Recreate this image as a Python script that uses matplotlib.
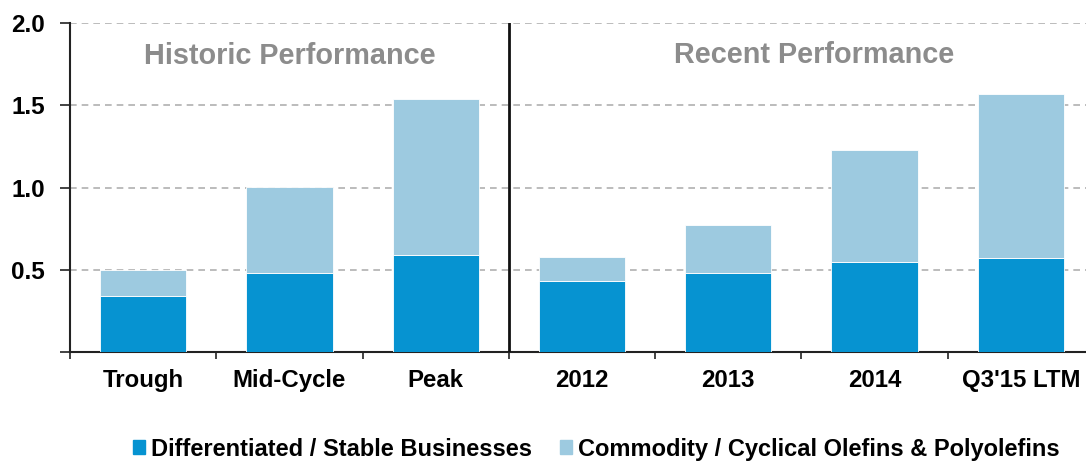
import numpy as np
import matplotlib.pyplot as plt
from matplotlib.patches import Rectangle

plt.rcParams['font.family'] = ['Liberation Sans', 'DejaVu Sans']
plt.rcParams['font.weight'] = 'bold'

categories = ['Trough', 'Mid-Cycle', 'Peak', '2012', '2013', '2014', "Q3'15 LTM"]
stable = [0.34, 0.48, 0.59, 0.43, 0.48, 0.55, 0.57]
total = [0.50, 1.00, 1.54, 0.58, 0.77, 1.23, 1.57]
n_hist = 3

series = ['Differentiated / Stable Businesses', 'Commodity / Cyclical Olefins & Polyolefins']
dark = '#0693d1'
light = '#9dcae0'
grid_c = '#b0b0b0'
title_c = '#8c8c8c'

fig = plt.figure(figsize=(10.86, 4.61), dpi=100)
W, H = 1086, 461
bot, top = 1 - 352 / H, 1 - 23 / H
ax = fig.add_axes([70 / W, bot, (1094 - 70) / W, top - bot])

x = np.arange(len(categories))
comm = np.array(total) - np.array(stable)
ax.bar(x, stable, 0.59, color=dark, edgecolor='white', linewidth=0.6, zorder=3)
ax.bar(x, comm, 0.59, bottom=stable, color=light, edgecolor='white', linewidth=0.6, zorder=3)

ax.set_ylim(0, 2.0)
ax.set_xlim(-0.5, len(categories) - 0.5)
ax.set_xticks(x)
ax.set_xticklabels(categories, fontsize=17.3, fontweight='bold')
ax.set_xticks(np.arange(len(categories) + 1) - 0.5, minor=True)
ax.tick_params(axis='x', which='major', length=0, pad=12.5)
ax.tick_params(axis='x', which='minor', length=5, width=1.2, direction='out', color='#222222')

ax.set_yticks([0, 0.5, 1.0, 1.5, 2.0])
ax.set_yticklabels(['', '0.5', '1.0', '1.5', '2.0'], fontsize=17.5, fontweight='bold')
ax.tick_params(axis='y', length=7, width=1.2, pad=11, color='#222222')

for v in [0.5, 1.0, 1.5, 2.0]:
    ax.axhline(v, color=grid_c, lw=1.2, ls=(0, (4, 3)), zorder=1)
ax.axvline(n_hist - 0.5, color='#111111', lw=2, zorder=4)

for s in ['top', 'right']:
    ax.spines[s].set_visible(False)
for s in ['left', 'bottom']:
    ax.spines[s].set_linewidth(1.5)
    ax.spines[s].set_color('#222222')

ax.text((n_hist - 1) / 2, 1.80, 'Historic Performance', ha='center', va='center',
        fontsize=20.8, fontweight='bold', color=title_c)
fig.text(814 / W, 1 - 55 / H, 'Recent Performance', ha='center', va='center',
         fontsize=20.8, fontweight='bold', color=title_c)

handles = [Rectangle((0, 0), 1, 1, color=dark), Rectangle((0, 0), 1, 1, color=light)]
fig.legend(handles, series, loc='center', bbox_to_anchor=(0.549, 1 - 449 / H), ncol=2,
           frameon=False, prop={'weight': 'bold', 'size': 17}, handlelength=0.5, handleheight=0.55,
           handletextpad=0.25, columnspacing=1.2)

fig.savefig('out.png', dpi=100)
